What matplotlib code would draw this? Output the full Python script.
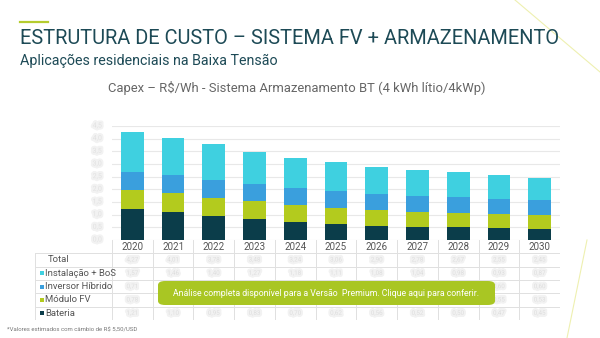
import numpy as np
import matplotlib.pyplot as plt
import matplotlib.patheffects as pe
from matplotlib.patches import FancyBboxPatch, Rectangle

plt.rcParams['font.family'] = ['Roboto', 'DejaVu Sans']

anos = ['2020', '2021', '2022', '2023', '2024', '2025', '2026', '2027', '2028', '2029', '2030']
bateria = [1.21, 1.10, 0.95, 0.83, 0.70, 0.62, 0.56, 0.52, 0.50, 0.47, 0.45]
modulo = [0.78, 0.74, 0.71, 0.69, 0.67, 0.65, 0.63, 0.60, 0.56, 0.55, 0.53]
inversor = [0.71, 0.71, 0.72, 0.69, 0.69, 0.68, 0.63, 0.62, 0.63, 0.60, 0.60]
instalacao = [1.57, 1.46, 1.40, 1.27, 1.18, 1.11, 1.08, 1.04, 0.98, 0.93, 0.87]

series = ['Instalação + BoS', 'Inversor Híbrido', 'Módulo FV', 'Bateria']
cores = ['#3fd0e0', '#3a9fdd', '#b3cb1e', '#0b3d4a']
y_ticks = [0, 0.5, 1.0, 1.5, 2.0, 2.5, 3.0, 3.5, 4.0, 4.5]

W, H = 600, 338
fig = plt.figure(figsize=(6, 3.38), dpi=100)
fig.patch.set_facecolor('white')


def fx(px):
    return px / W


def fy(py):
    return 1 - py / H


# decorations
fig.add_artist(plt.Line2D([fx(20), fx(48)], [fy(22), fy(22)], color='#b5cc2e', lw=1.6))
fig.add_artist(plt.Line2D([fx(515), fx(600)], [fy(0), fy(72)], color='#eef0b0', lw=0.8))
fig.add_artist(plt.Line2D([fx(567), fx(587)], [fy(338), fy(240)], color='#eef0b0', lw=0.8))

fig.text(fx(20), fy(38), 'ESTRUTURA DE CUSTO – SISTEMA FV + ARMAZENAMENTO',
         fontsize=14.4, color='#1d4a56', va='center', ha='left')
fig.text(fx(20), fy(61), 'Aplicações residenciais na Baixa Tensão',
         fontsize=10.3, color='#1d4a56', va='center', ha='left')
fig.text(fx(297), fy(88), 'Capex – R$/Wh - Sistema Armazenamento BT (4 kWh lítio/4kWp)',
         fontsize=9.4, color='#666666', va='center', ha='center')

# chart
ax = fig.add_axes([fx(112), fy(240), fx(560) - fx(112), fy(126) - fy(240)])
x = np.arange(len(anos))
base = np.zeros(len(anos))
for nome, vals, cor in zip(series[::-1], [bateria, modulo, inversor, instalacao], cores[::-1]):
    ax.bar(x, vals, 0.56, bottom=base, color=cor, zorder=3)
    base += np.array(vals)

ax.set_xlim(-0.5, len(anos) - 0.5)
ax.set_ylim(0, 4.5)
ax.set_yticks(y_ticks)
ax.grid(axis='y', color='#e8e8e8', lw=0.8, zorder=0)
ax.tick_params(left=False, bottom=False, labelleft=False, labelbottom=False)
for s in ax.spines.values():
    s.set_visible(False)

blur = [pe.withStroke(linewidth=3, foreground='#f2f2f2')]
for v in y_ticks:
    ax.text(-0.75, v, f'{v:.1f}'.replace('.', ','), ha='right', va='center',
            fontsize=5, color='#e2e2e2', path_effects=blur)

# table
tab = fig.add_axes([fx(35), fy(320), fx(560) - fx(35), fy(240) - fy(320)])
lab_w = 77 / (448 / len(anos))
tab.set_xlim(-0.5 - lab_w, len(anos) - 0.5)
tab.set_ylim(6, 0)
tab.axis('off')
linha = '#e0e0e0'
for k in range(len(anos) + 1):
    tab.plot([k - 0.5, k - 0.5], [0, 6], color=linha, lw=0.7)
tab.plot([-0.5 - lab_w, -0.5 - lab_w], [1, 6], color=linha, lw=0.7)
for r in range(1, 7):
    tab.plot([-0.5 - lab_w, len(anos) - 0.5], [r, r], color=linha, lw=0.7)

for i, a in enumerate(anos):
    tab.text(i, 0.5, a, ha='center', va='center', fontsize=7, color='#555555')

linhas = ['Total'] + series
valores = [list(base)] + [instalacao, inversor, modulo, bateria]
for r, (nome, vals) in enumerate(zip(linhas, valores), start=1):
    lx = -0.5 - lab_w + 0.12
    if r == 1:
        tab.text(lx + 0.2, r + 0.5, nome, ha='left', va='center', fontsize=6.8, color='#555555')
    else:
        tab.add_patch(Rectangle((lx, r + 0.35), 0.1, 0.3, color=cores[r - 2], lw=0))
        tab.text(lx + 0.13, r + 0.5, nome, ha='left', va='center', fontsize=6.8, color='#555555')
    for i, v in enumerate(vals):
        tab.text(i, r + 0.5, f'{v:.2f}'.replace('.', ','), ha='center', va='center',
                 fontsize=4.5, color='#dedede', path_effects=blur)

# premium banner
fig.patches.append(FancyBboxPatch((fx(158), fy(305)), fx(495) - fx(158), fy(281) - fy(305),
                                  boxstyle='round,pad=0,rounding_size=0.012',
                                  transform=fig.transFigure, facecolor='#a9c623',
                                  edgecolor='none', zorder=5))
fig.text(fx(326), fy(293),
         'Análise completa disponível para a Versão  Premium. Clique aqui para conferir.',
         fontsize=6.3, color='white', ha='center', va='center', zorder=6)

fig.text(fx(7), fy(330), '*Valores estimados com câmbio de R$ 5,50/USD',
         fontsize=4.3, color='#777777', ha='left', va='center')

fig.savefig('out.png', dpi=100)
